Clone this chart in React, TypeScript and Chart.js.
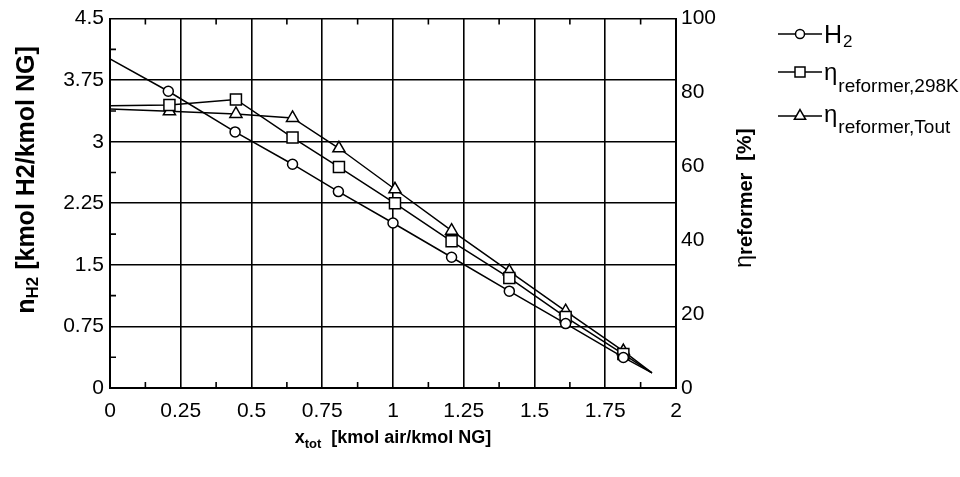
import React, { useEffect, useRef } from 'react';
import { Chart, registerables } from 'chart.js';

Chart.register(...registerables);

// Air-to-fuel ratio at each operating point [kmol air/kmol NG]
const xH2 = [0, 0.206, 0.442, 0.645, 0.807, 1.0, 1.207, 1.411, 1.61, 1.814, 1.915];
// Hydrogen yield [kmol H2/kmol NG]
const h2Yield = [4.01, 3.615, 3.12, 2.726, 2.393, 2.01, 1.593, 1.18, 0.785, 0.372, 0.185];
// Air-to-fuel ratio for the efficiency curves
const xEta = [0, 0.21, 0.445, 0.645, 0.809, 1.007, 1.207, 1.411, 1.61, 1.814, 1.915];
// Reformer efficiency, products at 298 K [%]
const eta298K = [76.4, 76.6, 78.1, 67.8, 59.8, 50.0, 39.7, 29.8, 19.2, 9.2, 4.1];
// Reformer efficiency, products at outlet temperature [%]
const etaTout = [75.5, 74.9, 74.2, 73.1, 64.9, 53.8, 42.6, 31.6, 20.8, 10.0, 4.1];

const X_MIN = 0, X_MAX = 2, X_STEP = 0.25;
const H2_MIN = 0, H2_MAX = 4.5, H2_STEP = 0.75;
const ETA_MIN = 0, ETA_MAX = 100, ETA_STEP = 20;

const FONT = '"Liberation Sans", Arial, sans-serif';
const INK = '#000';

type Seg = { t: string; font: string; dy?: number };

function drawRich(ctx: CanvasRenderingContext2D, segs: Seg[], x: number, y: number, align: 'left' | 'center') {
  let total = 0;
  const widths = segs.map((s) => {
    ctx.font = s.font;
    const w = ctx.measureText(s.t).width;
    total += w;
    return w;
  });
  let cx = align === 'center' ? x - total / 2 : x;
  ctx.textAlign = 'left';
  ctx.textBaseline = 'alphabetic';
  segs.forEach((s, i) => {
    ctx.font = s.font;
    ctx.fillText(s.t, cx, y + (s.dy || 0));
    cx += widths[i];
  });
}

function marker(ctx: CanvasRenderingContext2D, kind: string, x: number, y: number) {
  ctx.beginPath();
  if (kind === 'circle') {
    ctx.arc(x, y, 4.5, 0, Math.PI * 2);
  } else if (kind === 'rect') {
    ctx.rect(x - 5, y - 5, 10, 10);
  } else {
    const r = 6.5;
    ctx.moveTo(x, y - r);
    ctx.lineTo(x + r * Math.sin((2 * Math.PI) / 3), y + r / 2);
    ctx.lineTo(x - r * Math.sin((2 * Math.PI) / 3), y + r / 2);
    ctx.closePath();
  }
  ctx.fillStyle = '#fff';
  ctx.fill();
  ctx.lineWidth = 1.5;
  ctx.strokeStyle = INK;
  ctx.stroke();
}

const decorations = {
  id: 'decorations',
  afterDraw(chart: any) {
    const ctx: CanvasRenderingContext2D = chart.ctx;
    const { left, right, top, bottom } = chart.chartArea;
    const xs = chart.scales.x;
    const ys = chart.scales.y;
    ctx.save();
    ctx.strokeStyle = INK;
    ctx.lineWidth = 1.6;

    // minor ticks, pointing inward
    const tick = 6;
    ctx.beginPath();
    for (let v = X_MIN + X_STEP / 2; v < X_MAX; v += X_STEP) {
      const px = xs.getPixelForValue(v);
      ctx.moveTo(px, top);
      ctx.lineTo(px, top + tick);
      ctx.moveTo(px, bottom);
      ctx.lineTo(px, bottom - tick);
    }
    for (let v = H2_MIN + H2_STEP / 2; v < H2_MAX; v += H2_STEP) {
      const py = ys.getPixelForValue(v);
      ctx.moveTo(left, py);
      ctx.lineTo(left + tick, py);
    }
    ctx.stroke();

    ctx.fillStyle = INK;

    // x-axis title
    drawRich(ctx, [
      { t: 'x', font: `bold 18px ${FONT}` },
      { t: 'tot', font: `bold 13px ${FONT}`, dy: 5 },
      { t: '  [kmol air/kmol NG]', font: `bold 18px ${FONT}` },
    ], (left + right) / 2, 443, 'center');

    // left axis title
    ctx.save();
    ctx.translate(34, 180);
    ctx.rotate(-Math.PI / 2);
    drawRich(ctx, [
      { t: 'n', font: `bold 25px ${FONT}` },
      { t: 'H2', font: `bold 17px ${FONT}`, dy: 4 },
      { t: ' [kmol H2/kmol NG]', font: `bold 25px ${FONT}` },
    ], 0, 0, 'center');
    ctx.restore();

    // right axis title
    ctx.save();
    ctx.translate(751, 198);
    ctx.rotate(-Math.PI / 2);
    drawRich(ctx, [
      { t: 'η', font: `23px ${FONT}` },
      { t: 'reformer', font: `bold 20px ${FONT}`, dy: 1 },
      { t: '  [%]', font: `bold 21px ${FONT}` },
    ], 0, 0, 'center');
    ctx.restore();

    // legend
    const rows = [
      { kind: 'circle', y: 34, main: 'H', mainFont: `25px ${FONT}`, sub: '2', subFont: `17px ${FONT}`, dyMain: 9, dySub: 13 },
      { kind: 'rect', y: 72, main: 'η', mainFont: `24px ${FONT}`, sub: 'reformer,298K', subFont: `19px ${FONT}`, dyMain: 8, dySub: 20 },
      { kind: 'triangle', y: 116, main: 'η', mainFont: `24px ${FONT}`, sub: 'reformer,Tout', subFont: `19px ${FONT}`, dyMain: 6, dySub: 17 },
    ];
    rows.forEach((r) => {
      ctx.beginPath();
      ctx.lineWidth = 1.5;
      ctx.strokeStyle = INK;
      ctx.moveTo(778, r.y);
      ctx.lineTo(822, r.y);
      ctx.stroke();
      marker(ctx, r.kind, 800, r.y);
      ctx.fillStyle = INK;
      ctx.font = r.mainFont;
      ctx.textAlign = 'left';
      ctx.textBaseline = 'alphabetic';
      ctx.fillText(r.main, 824, r.y + r.dyMain);
      const w = ctx.measureText(r.main).width;
      ctx.font = r.subFont;
      ctx.fillText(r.sub, 824 + w + 1, r.y + r.dySub);
    });

    ctx.restore();
  },
};

const fmt = (v: any) => String(+Number(v).toFixed(3));

export default function App() {
  const ref = useRef<HTMLCanvasElement>(null);

  useEffect(() => {
    document.body.style.margin = '0';
    const canvas = ref.current!;
    const pts = (xs: number[], ys: number[]) => xs.map((x, i) => ({ x, y: ys[i] }));
    const radii = (xs: number[], r: number) => xs.map((_, i) => (i === 0 || i === xs.length - 1 ? 0 : r));

    const lineStyle = {
      borderColor: INK,
      borderWidth: 1.5,
      pointBackgroundColor: '#fff',
      pointBorderColor: INK,
      pointBorderWidth: 1.5,
      tension: 0,
      fill: false,
    };

    const tickFont = { family: FONT, size: 21 };

    const chart = new Chart(canvas, {
      type: 'line',
      data: {
        datasets: [
          { ...lineStyle, label: 'H2', data: pts(xH2, h2Yield), yAxisID: 'y', pointStyle: 'circle', pointRadius: radii(xH2, 5) },
          { ...lineStyle, label: 'η reformer,298K', data: pts(xEta, eta298K), yAxisID: 'y1', pointStyle: 'rect', pointRadius: radii(xEta, 7.8) },
          { ...lineStyle, label: 'η reformer,Tout', data: pts(xEta, etaTout), yAxisID: 'y1', pointStyle: 'triangle', pointRadius: radii(xEta, 7) },
        ],
      },
      options: {
        responsive: false,
        animation: false,
        devicePixelRatio: 1,
        layout: { padding: { top: 17, left: 0, right: 0, bottom: 0 } },
        plugins: { legend: { display: false }, tooltip: { enabled: false } },
        scales: {
          x: {
            type: 'linear',
            min: X_MIN,
            max: X_MAX,
            afterFit: (s: any) => { s.height = 89; },
            ticks: { stepSize: X_STEP, callback: fmt, color: INK, font: tickFont, padding: 11, maxRotation: 0, autoSkip: false },
            grid: { color: INK, lineWidth: 1.6, drawTicks: false },
            border: { color: INK, width: 2 },
          },
          y: {
            type: 'linear',
            position: 'left',
            min: H2_MIN,
            max: H2_MAX,
            afterFit: (s: any) => { s.width = 110; },
            ticks: { stepSize: H2_STEP, callback: fmt, color: INK, font: tickFont, padding: 6, autoSkip: false },
            grid: { color: INK, lineWidth: 1.6, drawTicks: false },
            border: { color: INK, width: 2 },
          },
          y1: {
            type: 'linear',
            position: 'right',
            min: ETA_MIN,
            max: ETA_MAX,
            afterFit: (s: any) => { s.width = 284; },
            ticks: { stepSize: ETA_STEP, callback: fmt, color: INK, font: tickFont, padding: 5, autoSkip: false },
            grid: { display: false, drawTicks: false },
            border: { color: INK, width: 2 },
          },
        },
      },
      plugins: [decorations],
    });
    return () => chart.destroy();
  }, []);

  return (
    <div style={{ width: 960, height: 477, background: '#fff' }}>
      <canvas ref={ref} width={960} height={477} style={{ display: 'block' }} />
    </div>
  );
}
